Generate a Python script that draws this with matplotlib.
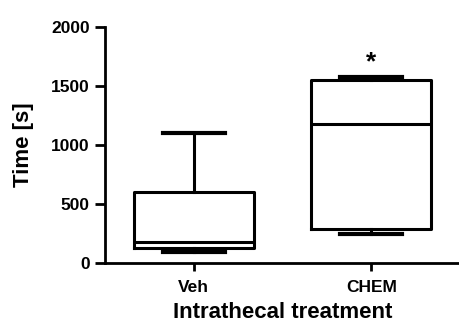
import matplotlib
matplotlib.use("Agg")
import matplotlib.pyplot as plt

plt.rcParams['font.family'] = ['Liberation Sans', 'DejaVu Sans']
plt.rcParams['font.weight'] = 'bold'

categories = ["Veh", "CHEM"]
whislo = [95, 245]
q1 = [125, 290]
med = [178, 1175]
q3 = [600, 1550]
whishi = [1100, 1575]
yticks = [0, 500, 1000, 1500, 2000]

fig = plt.figure(figsize=(4.6, 3.27), dpi=100)
ax = fig.add_axes([105/460, (327-263)/327, (460-105)/460, (263-27)/327])

stats = []
for i, c in enumerate(categories):
    stats.append(dict(label=c, whislo=whislo[i], q1=q1[i], med=med[i],
                      q3=q3[i], whishi=whishi[i], fliers=[]))

ax.bxp(stats, positions=range(len(categories)), widths=0.675, capwidths=0.35,
       showfliers=False,
       boxprops=dict(color='black', linewidth=2.2),
       whiskerprops=dict(color='black', linewidth=2.2),
       capprops=dict(color='black', linewidth=3),
       medianprops=dict(color='black', linewidth=2.2))

ax.text(1, 1600, "*", ha='center', va='bottom', fontsize=19, fontweight='bold')

ax.set_xlim(-0.5, 1.5)
ax.set_ylim(0, 2000)
ax.set_yticks(yticks)
ax.set_yticklabels([str(v) for v in yticks])
ax.set_xticks(range(len(categories)))
ax.set_xticklabels(categories)
for sp in ['top', 'right']:
    ax.spines[sp].set_visible(False)
for sp in ['left', 'bottom']:
    ax.spines[sp].set_linewidth(2)
ax.tick_params(axis='y', width=2, length=7, labelsize=12.5, pad=4)
ax.tick_params(axis='x', width=2, length=6, labelsize=12.5, pad=6)
for lbl in ax.get_xticklabels() + ax.get_yticklabels():
    lbl.set_fontweight('bold')
ax.set_ylabel("Time [s]", fontsize=16, fontweight='bold', labelpad=12)
ax.set_xlabel("Intrathecal treatment", fontsize=16, fontweight='bold', labelpad=5)

fig.savefig("out.png", dpi=100)
